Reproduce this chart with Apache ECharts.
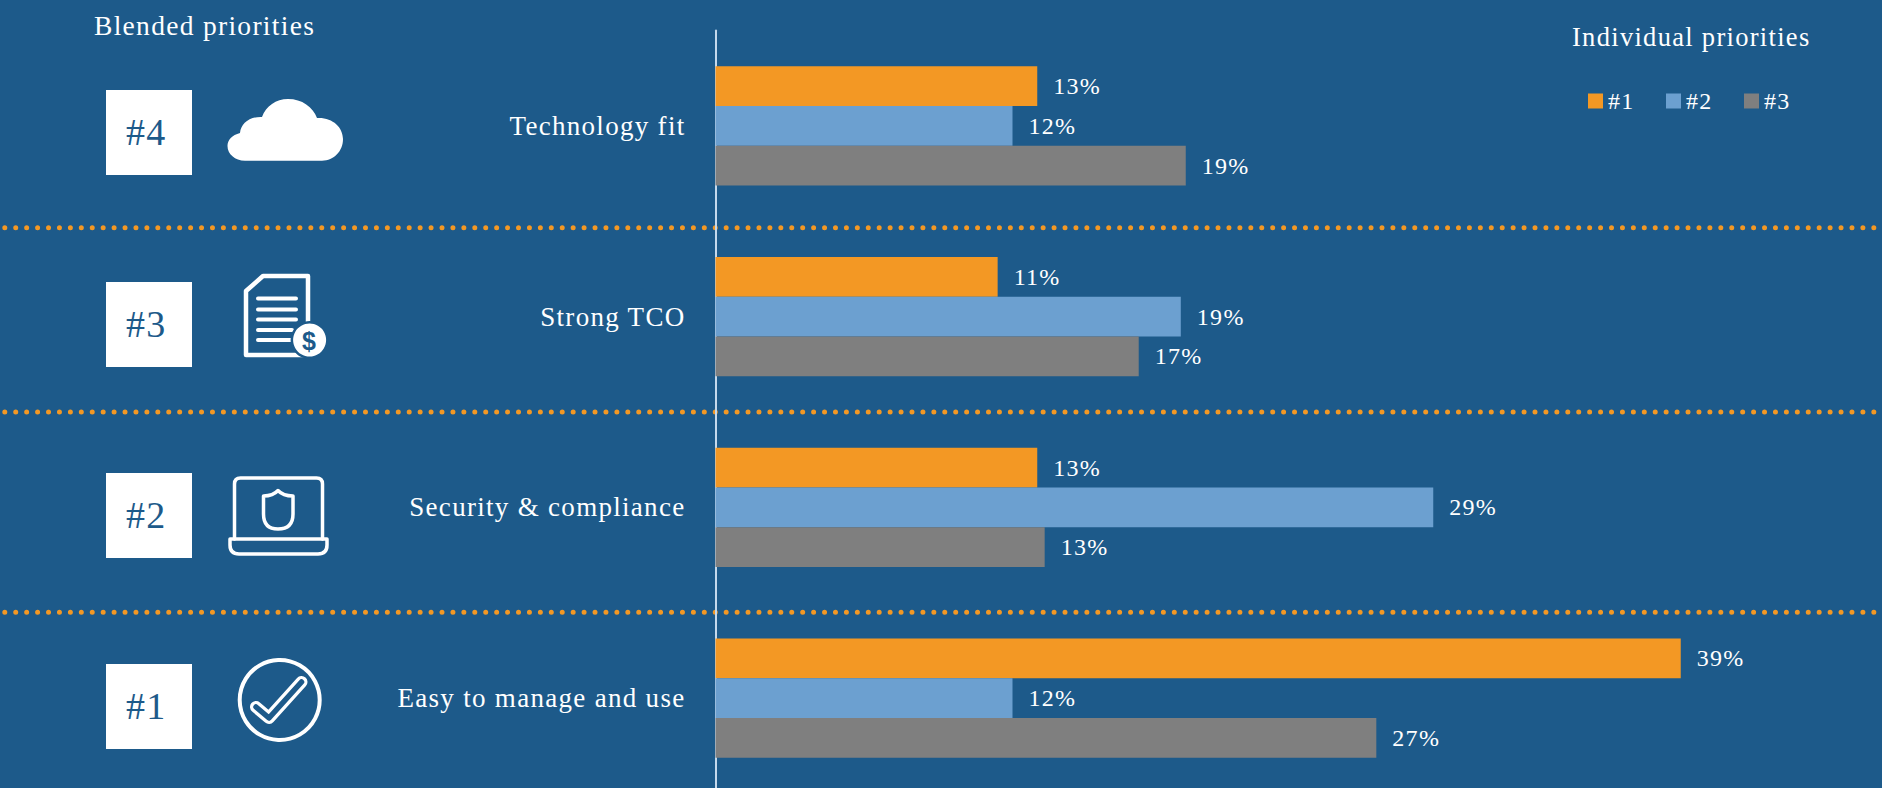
<!DOCTYPE html>
<html>
<head>
    <meta charset="utf-8">
    <title>Priorities</title>
    <script src="https://cdn.jsdelivr.net/npm/echarts@6/dist/echarts.min.js"></script>
    <style>
        html, body { margin: 0; padding: 0; background: #1d5a8a; overflow: hidden; }
        #chart { width: 1882px; height: 788px; }
        /* echarts has no letter spacing option, the svg text picks this up */
        #chart text { letter-spacing: 1.3px; }
    </style>
</head>
<body>
<div id="chart"></div>
<script>
    var categories = ['Technology fit', 'Strong TCO', 'Security & compliance', 'Easy to manage and use'];
    var ranks = ['#4', '#3', '#2', '#1'];
    var seriesNames = ['#1', '#2', '#3'];
    var first = [13.0, 11.4, 13.0, 39.0];
    var second = [12.0, 18.8, 29.0, 12.0];
    var third = [19.0, 17.1, 13.3, 26.7];

    var bg = '#1d5a8a';
    var orange = '#f39824';
    var blue = '#6ca0d0';
    var grey = '#7f7f7f';
    var serif = '"Liberation Serif", serif';

    function barSeries(name, values, color) {
        return {
            name: name,
            type: 'bar',
            data: values,
            barWidth: 39.7,
            barGap: '0%',
            itemStyle: {color: color},
            label: {
                show: true,
                position: 'right',
                distance: 16,
                color: '#fff',
                fontFamily: serif,
                fontSize: 24,
                formatter: function (p) { return Math.round(p.value) + '%'; }
            }
        };
    }

    function text(str, x, y, size, color) {
        return {
            type: 'text',
            x: x,
            y: y,
            style: {text: str, fill: color, font: size + 'px ' + serif, verticalAlign: 'middle'}
        };
    }

    // graphic has no plain path type, so each icon path gets registered as a shape
    var shapeCount = 0;
    function pathShape(pathData) {
        var name = 'iconPath' + (shapeCount++);
        echarts.graphic.registerShape(name, echarts.graphic.extendPath(pathData, {}));
        return name;
    }

    function outline(pathData, width) {
        return {
            type: pathShape(pathData),
            style: {fill: 'none', stroke: '#fff', lineWidth: width, lineJoin: 'round', lineCap: 'round'}
        };
    }

    function dots(y) {
        return {
            type: 'line',
            shape: {x1: 4.8, y1: y, x2: 1882, y2: y},
            style: {stroke: orange, lineWidth: 5, lineCap: 'round', lineDash: [0, 10.93]}
        };
    }

    var boxTops = [90, 282, 473, 664];
    var elements = [];

    elements.push(text('Blended priorities', 94, 25, 27.5, '#fff'));
    elements.push(text('Individual priorities', 1572, 37, 26.5, '#fff'));

    [227.7, 412, 612.3].forEach(function (y) { elements.push(dots(y)); });

    boxTops.forEach(function (top, i) {
        elements.push({type: 'rect', shape: {x: 106, y: top, width: 86, height: 85}, style: {fill: '#fff'}});
        elements.push(text(ranks[i], 126, top + 42, 38, bg));
    });

    // cloud
    elements.push({
        type: pathShape('M245 160.7C235 160.7 227.5 154 227.5 146C227.5 140 232 135 240 133C241 124 249 116.5 262 117C266 106 276 99 288 99C302 99 313 107 317 118C332 117 343 127 343 139C343 151 334 160.7 322 160.7Z'),
        style: {fill: '#fff'}
    });

    // document with dollar coin
    elements.push(outline('M263 276L308 276L308 355L246 355L246 291Z', 4.5));
    elements.push(outline('M258 298.5L296 298.5M258 309.5L296 309.5M258 319.5L296 319.5M258 330L292 330M258 340L292 340', 4));
    elements.push({type: 'circle', shape: {cx: 309.6, cy: 340, r: 19}, style: {fill: bg}});
    elements.push({type: 'circle', shape: {cx: 309.6, cy: 340, r: 16.5}, style: {fill: '#fff'}});
    elements.push({
        type: 'text',
        x: 309.6,
        y: 341,
        style: {text: '$', fill: bg, font: 'bold 25px "Liberation Sans", sans-serif', align: 'center', verticalAlign: 'middle'}
    });

    // laptop with shield
    elements.push(outline('M234.5 539L234.5 484Q234.5 478 240.5 478L316.5 478Q322.5 478 322.5 484L322.5 539', 3.5));
    elements.push(outline('M230 539L327 539L327 545Q327 554 318 554L239 554Q230 554 230 545Z', 3.5));
    elements.push(outline('M263.5 496Q273 496 278 490.5Q283 496 293 496L293 514Q293 529 278 529Q263.5 529 263.5 514Z', 3.5));

    // check mark
    elements.push({type: 'circle', shape: {cx: 279.7, cy: 700, r: 40}, style: {fill: 'none', stroke: '#fff', lineWidth: 4}});
    var checkPath = 'M256 707L269 718L301.5 682';
    elements.push(outline(checkPath, 12));
    elements.push({
        type: pathShape(checkPath),
        style: {fill: 'none', stroke: bg, lineWidth: 5.5, lineJoin: 'round', lineCap: 'round'}
    });

    var chart = echarts.init(document.getElementById('chart'), null, {renderer: 'svg'});
    chart.setOption({
        animation: false,
        backgroundColor: bg,
        grid: {left: 715.5, top: 30.5, width: 1237.5, height: 763, containLabel: false, outerBoundsMode: 'none'},
        legend: {
            left: 1588,
            top: 89,
            padding: 0,
            icon: 'rect',
            itemWidth: 15,
            itemHeight: 15,
            itemGap: 34,
            data: seriesNames,
            textStyle: {color: '#fff', fontFamily: serif, fontSize: 24}
        },
        xAxis: {type: 'value', min: 0, max: 50, show: false},
        yAxis: {
            type: 'category',
            inverse: true,
            data: categories,
            axisLine: {lineStyle: {color: '#c5d9ec', width: 2}},
            axisTick: {show: false},
            axisLabel: {color: '#fff', fontFamily: serif, fontSize: 27, margin: 30}
        },
        series: [
            barSeries(seriesNames[0], first, orange),
            barSeries(seriesNames[1], second, blue),
            barSeries(seriesNames[2], third, grey)
        ],
        graphic: {elements: elements}
    });
</script>
</body>
</html>
